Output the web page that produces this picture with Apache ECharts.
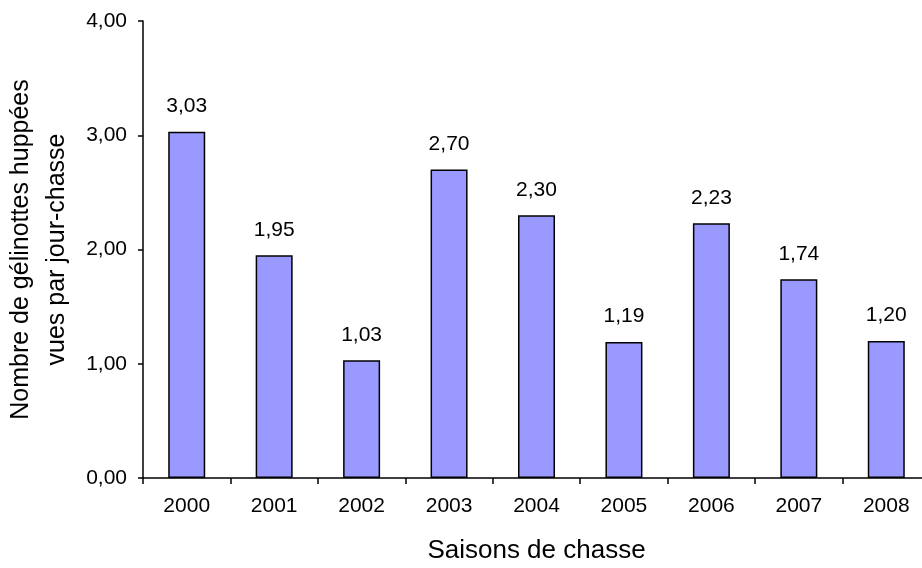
<!DOCTYPE html>
<html><head><meta charset="utf-8">
<script src="https://cdn.jsdelivr.net/npm/echarts@6/dist/echarts.min.js"></script>
<style>html,body{margin:0;padding:0;background:#fff}#c{width:922px;height:568px}</style>
</head><body><div id="c"></div>
<script>
const categories = ['2000','2001','2002','2003','2004','2005','2006','2007','2008'];
const values = [3.03, 1.95, 1.03, 2.70, 2.30, 1.19, 2.23, 1.74, 1.20];
const yTicks = [0, 1, 2, 3, 4];
const xTitle = 'Saisons de chasse';
const yTitle = 'Nombre de gélinottes huppées\nvues par jour-chasse';

const fmt = v => Number(v).toFixed(2).replace('.', ',');
const font = '"Liberation Sans", Arial, sans-serif';
const chart = echarts.init(document.getElementById('c'), null, {renderer: 'canvas'});
chart.setOption({
  animation: false,
  backgroundColor: '#fff',
  grid: {left: 143, right: -8, top: 21, bottom: 90, containLabel: false, outerBoundsMode: 'none'},
  xAxis: {
    type: 'category', data: categories,
    axisLine: {lineStyle: {color: '#000', width: 1.5}},
    axisTick: {show: true, length: 6, lineStyle: {color: '#000', width: 1.5}},
    axisLabel: {color: '#000', fontSize: 21, fontFamily: font, margin: 18},
    name: xTitle, nameLocation: 'middle', nameGap: 60,
    nameTextStyle: {color: '#000', fontSize: 26, fontFamily: font}
  },
  yAxis: {
    type: 'value', min: yTicks[0], max: yTicks[yTicks.length-1], interval: 1,
    splitLine: {show: false},
    axisLine: {show: true, lineStyle: {color: '#000', width: 1.5}},
    axisTick: {show: true, length: 5, lineStyle: {color: '#000', width: 1.5}},
    axisLabel: {color: '#000', fontSize: 21, fontFamily: font, margin: 16, formatter: fmt},
    name: yTitle, nameLocation: 'middle', nameGap: 62, nameRotate: 90,
    nameTextStyle: {color: '#000', fontSize: 25, fontFamily: font, lineHeight: 36}
  },
  series: [{
    type: 'bar', data: values, barWidth: 37,
    itemStyle: {color: '#9999FF', borderColor: '#000', borderWidth: 1.5},
    label: {show: true, position: 'top', distance: 15, color: '#000', fontSize: 21, fontFamily: font,
      formatter: p => fmt(p.value)}
  }]
});
</script></body></html>
